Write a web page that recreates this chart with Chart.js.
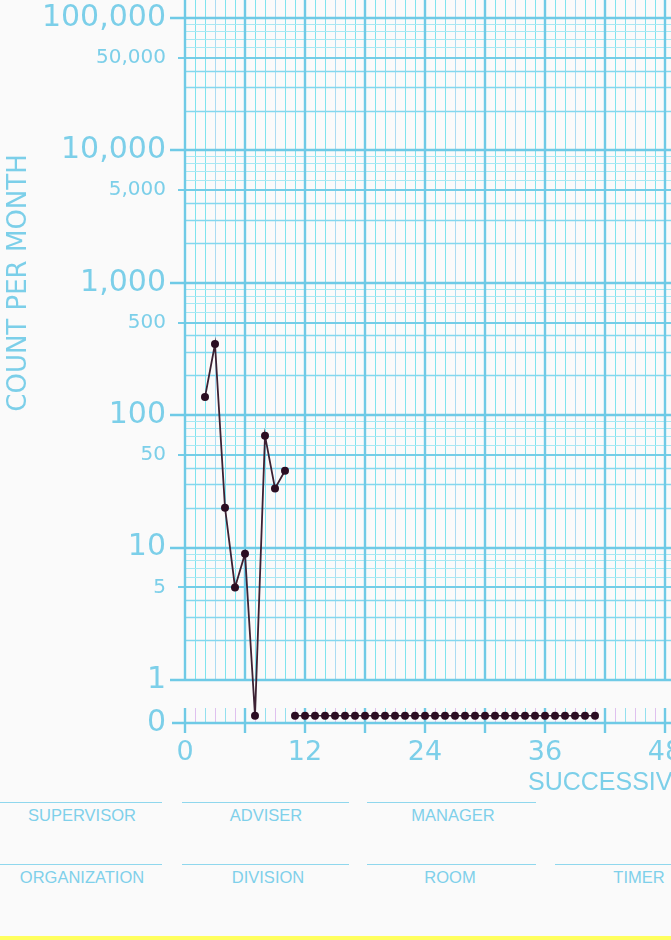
<!DOCTYPE html>
<html>
<head>
<meta charset="utf-8">
<title>Count per month</title>
<script src="https://cdn.jsdelivr.net/npm/chart.js@4.4.1/dist/chart.umd.min.js"></script>
<style>
  html, body { margin: 0; padding: 0; width: 671px; height: 940px; overflow: hidden; background: #fafafa; }
  #wrap { position: absolute; left: 0; top: 0; width: 671px; height: 800px; }
  .rule { position: absolute; height: 0; border-top: 1.5px solid #8fd7ed; }
  .lbl { position: absolute; transform: translateX(-50%); font-family: "Liberation Sans", Arial, sans-serif;
         font-size: 16.5px; line-height: 1; color: #7fd0ea; white-space: nowrap; }
  #strip { position: absolute; left: 0; top: 936px; width: 671px; height: 4px; background: #ffff5e; }
</style>
</head>
<body>
<div id="wrap"><canvas id="chart" width="671" height="800"></canvas></div>

<!-- form fields under the chart -->
<div class="rule" style="left:0;top:802px;width:162px"></div>
<div class="rule" style="left:182px;top:802px;width:167px"></div>
<div class="rule" style="left:367px;top:802px;width:169px"></div>
<div class="lbl" style="left:82px;top:807px">SUPERVISOR</div>
<div class="lbl" style="left:266px;top:807px">ADVISER</div>
<div class="lbl" style="left:453px;top:807px">MANAGER</div>

<div class="rule" style="left:0;top:864px;width:162px"></div>
<div class="rule" style="left:182px;top:864px;width:167px"></div>
<div class="rule" style="left:367px;top:864px;width:169px"></div>
<div class="rule" style="left:555px;top:864px;width:116px"></div>
<div class="lbl" style="left:82px;top:869px">ORGANIZATION</div>
<div class="lbl" style="left:268px;top:869px">DIVISION</div>
<div class="lbl" style="left:450px;top:869px">ROOM</div>
<div class="lbl" style="left:639px;top:869px">TIMER</div>
<div id="strip"></div>

<script>
// counts per month
const phase1Months = [2, 3, 4, 5, 6, 7, 8, 9, 10];
const phase1Counts = [137, 345, 20, 5, 9, 0, 70, 28, 38];

const phase2Months = [11, 12, 13, 14, 15, 16, 17, 18, 19, 20, 21, 22, 23, 24, 25, 26,
                      27, 28, 29, 30, 31, 32, 33, 34, 35, 36, 37, 38, 39, 40, 41];
const phase2Counts = [0, 0, 0, 0, 0, 0, 0, 0, 0, 0, 0, 0, 0, 0, 0, 0,
                      0, 0, 0, 0, 0, 0, 0, 0, 0, 0, 0, 0, 0, 0, 0];

// axis ticks
const yTickCounts = [0, 1, 5, 10, 50, 100, 500, 1000, 5000, 10000, 50000, 100000];
const yTickLabels = ['0', '1', '5', '10', '50', '100', '500', '1,000', '5,000', '10,000', '50,000', '100,000'];
const xTickMonths = [0, 12, 24, 36, 48];
const xTickLabels = ['0', '12', '24', '36', '48'];

// the y axis is drawn in log10 units, with a "zero" strip below 1
const ZERO_LINE = -0.325;   // where the 0 line sits
const ZERO_MARK = -0.27;    // where zero counts are plotted
const Y_TOP = 5.136;
const X_MAX = 48.6;

const BLUE = '#6fcae6';
const TEXT = '#7ccfe9';

const toPos = v => v > 0 ? Math.log10(v) : ZERO_MARK;
const tickPos = v => v > 0 ? Math.log10(v) : ZERO_LINE;

// graph-paper grid, drawn from the scales
const paperGrid = {
  id: 'paperGrid',
  beforeDatasetsDraw(chart) {
    const { ctx, chartArea: a, scales: { x, y } } = chart;
    const yOne = y.getPixelForValue(0);
    const yZero = Math.round(y.getPixelForValue(ZERO_LINE));
    ctx.save();

    const hline = (px, x0, w, c) => {
      ctx.strokeStyle = c; ctx.lineWidth = w;
      ctx.beginPath(); ctx.moveTo(x0, px); ctx.lineTo(a.right, px); ctx.stroke();
    };
    const vline = (px, y0, y1, w, c) => {
      ctx.strokeStyle = c; ctx.lineWidth = w;
      ctx.beginPath(); ctx.moveTo(px, y0); ctx.lineTo(px, y1); ctx.stroke();
    };

    // minor verticals
    for (let mo = 1; mo <= 48; mo++) {
      if (mo % 6 === 0) continue;
      const px = Math.round(x.getPixelForValue(mo)) + 0.5;
      vline(px, a.top, yOne, 1, (mo % 6 === 3) ? '#a9dcf3' : '#7ee4ef');
      vline(px, yZero - 15, yZero, 1, (mo % 2) ? '#dfc0ef' : '#92e0ef');
    }
    // minor horizontals
    for (let k = 0; k < 5; k++) {
      for (let m = 2; m <= 9; m++) {
        if (m === 5) continue;
        const py = Math.round(y.getPixelForValue(Math.log10(m * Math.pow(10, k)))) + 0.5;
        hline(py, a.left, m <= 4 ? 1.3 : 1, m <= 4 ? '#84d7ee' : '#a8e8f3');
      }
    }
    // fives
    for (let k = 0; k < 5; k++) {
      const py = Math.round(y.getPixelForValue(Math.log10(5 * Math.pow(10, k))));
      hline(py, a.left - 7, 2, '#74cde7');
    }
    // decades
    for (let k = 0; k <= 5; k++) {
      const py = Math.round(y.getPixelForValue(k));
      hline(py, a.left - 15, 2.6, BLUE);
    }
    // major verticals every 6 months
    for (let mo = 0; mo <= 48; mo += 6) {
      const px = Math.round(x.getPixelForValue(mo));
      vline(px, a.top, yOne, 2.4, BLUE);
      vline(px, yZero - 15, yZero + 10, 2.4, BLUE);
    }
    // zero line
    hline(yZero, a.left - 13, 2.4, BLUE);

    // axis titles
    ctx.fillStyle = TEXT;
    ctx.font = '26px "DejaVu Sans"';
    ctx.textAlign = 'center';
    ctx.textBaseline = 'middle';
    ctx.save();
    ctx.translate(19, 283);
    ctx.rotate(-Math.PI / 2);
    ctx.fillText('COUNT PER MONTH', 0, 0);
    ctx.restore();
    ctx.font = '25px "Liberation Sans"';
    ctx.textAlign = 'left';
    ctx.fillText('SUCCESSIVE CALENDAR MONTHS', 528, 783);
    ctx.restore();
  }
};

const lineStyle = {
  borderColor: '#3c2133',
  borderWidth: 1.8,
  pointRadius: 4,
  pointBackgroundColor: '#2b0d22',
  pointBorderColor: '#2b0d22',
  pointBorderWidth: 0,
  tension: 0,
  clip: false
};

new Chart(document.getElementById('chart'), {
  type: 'line',
  data: {
    datasets: [
      { ...lineStyle, data: phase1Months.map((m, i) => ({ x: m, y: toPos(phase1Counts[i]) })) },
      { ...lineStyle, borderWidth: 1.4,
        data: phase2Months.map((m, i) => ({ x: m, y: toPos(phase2Counts[i]) })) }
    ]
  },
  options: {
    responsive: false,
    animation: false,
    layout: { padding: 0, autoPadding: false },
    plugins: { legend: { display: false }, tooltip: { enabled: false } },
    scales: {
      x: {
        type: 'linear',
        min: 0,
        max: X_MAX,
        grid: { display: false, drawTicks: false },
        border: { display: false },
        afterBuildTicks: s => { s.ticks = xTickMonths.map(v => ({ value: v })); },
        afterFit: s => { s.height = 77; s.paddingLeft = 0; s.paddingRight = 0; },
        ticks: {
          autoSkip: false,
          maxRotation: 0,
          padding: 14,
          color: TEXT,
          font: { family: 'DejaVu Sans', size: 27 },
          callback: (v, i) => xTickLabels[i]
        }
      },
      y: {
        type: 'linear',
        min: ZERO_LINE,
        max: Y_TOP,
        grid: { display: false, drawTicks: false },
        border: { display: false },
        afterBuildTicks: s => { s.ticks = yTickCounts.map(v => ({ value: tickPos(v) })); },
        afterFit: s => { s.width = 185; s.paddingTop = 0; s.paddingBottom = 0; },
        ticks: {
          autoSkip: false,
          padding: 19,
          color: TEXT,
          font: c => {
            const lbl = yTickLabels[c.index] || '';
            const small = lbl.charAt(0) === '5';
            return { family: 'DejaVu Sans', size: small ? 20 : 30 };
          },
          callback: (v, i) => yTickLabels[i]
        }
      }
    }
  },
  plugins: [paperGrid]
});
</script>
</body>
</html>
